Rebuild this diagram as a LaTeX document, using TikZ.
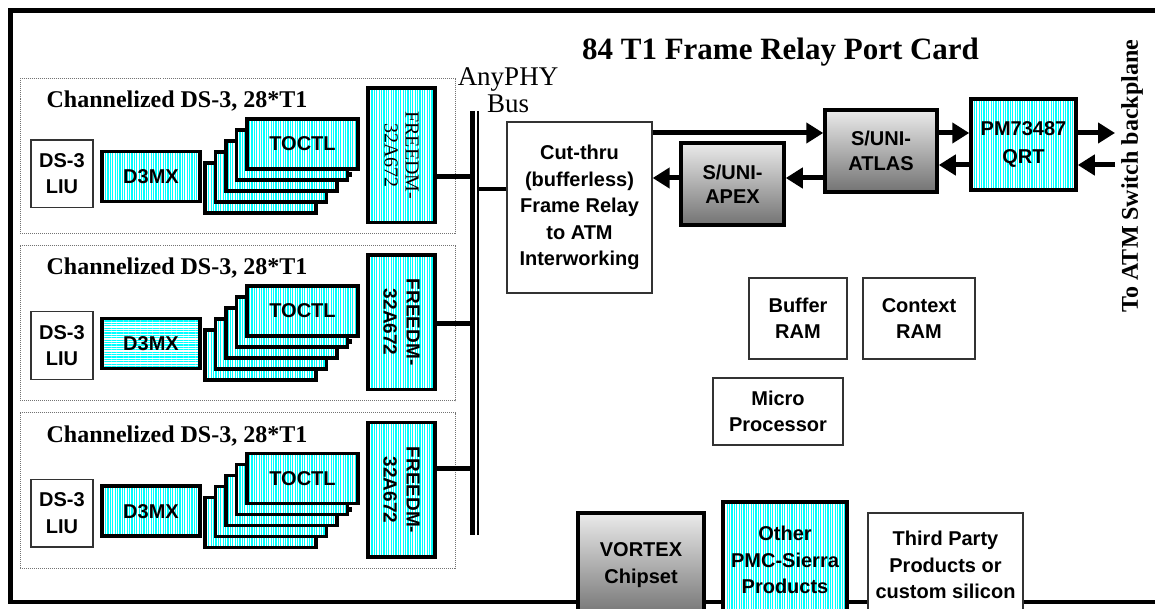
\documentclass[tikz,border=0pt]{standalone}
\usepackage{fontspec}
\setmainfont{Liberation Serif}
\setsansfont{Liberation Sans}
\usetikzlibrary{arrows.meta,patterns.meta}
\tikzset{
  sansb/.style={font=\sffamily\bfseries\fontsize{20}{26.5}\selectfont},
  thinbox/.style={draw=black!80, line width=1.3pt, fill=white, inner sep=0pt, align=center, sansb},
  thickbox/.style={draw=black, line width=3.5pt, inner sep=0pt, align=center, sansb},
  vstripes/.style={preaction={fill=white}, pattern={Lines[angle=90,distance=2.4pt,line width=1.1pt]}, pattern color=cyan},
  hstripes/.style={preaction={fill=white}, pattern={Lines[angle=0,distance=2.4pt,line width=1.1pt]}, pattern color=cyan},
  grad/.style={top color=black!8, bottom color=black!55},
  groupbox/.style={draw=black!55, line width=0.9pt, dash pattern=on 1pt off 1pt, inner sep=0pt},
  grouptitle/.style={font=\rmfamily\bfseries\fontsize{24}{26}\selectfont, inner sep=0pt},
  link/.style={line width=4.5pt},
  arr/.style={line width=5pt, -{Triangle[length=17pt,width=20pt]}},
  frame/.style={line width=4.3pt, line join=miter},
}
\newcommand{\dsgroup}[6]{%
  \node[groupbox, minimum width=435pt, minimum height=155.5pt] (grp#1) at (237.5, #2+77.75) {};
  \node[grouptitle, anchor=base] (gt#1) at (177, #2+30) {Channelized DS-3, 28*T1};
  \node[thinbox, minimum width=62pt, minimum height=67.7pt] (liu#1) at (62, #3+33.85) {DS-3\\LIU};
  \node[thickbox, #5, minimum width=98pt, minimum height=50pt] (d3mx#1) at (151, #2+98.5) {D3MX};
  \foreach \i in {0,...,3}{%
    \node[thickbox, vstripes, minimum width=111pt, minimum height=50pt] (toc#1-\i) at (260.5+10.5*\i, #2+110-11*\i) {};}
  \fill[black] (347, #2+94) rectangle (352, #2+99);
  \node[thickbox, vstripes, minimum width=111pt, minimum height=50pt] (toc#1) at (302.5, #2+66) {TOCTL};
  \node[thickbox, vstripes, minimum width=67pt, minimum height=134.5pt] (fr#1) at (401.5, #2+77.25) {};
  \node[rotate=-90, align=center, inner sep=0pt, font=#6] (frt#1) at (fr#1.center) {FREEDM-\\32A672};
  \coordinate (bl#1) at (472.5, #4);
  \draw[link] (fr#1.east |- bl#1) -- (bl#1);
}
\begin{document}
\begin{tikzpicture}[x=1pt,y=-1pt]
\useasboundingbox (0,0) rectangle (1155,609);
\clip (0,0) rectangle (1155,609);
% outer frame
\draw[frame] (1156,10.5) -- (10.5,10.5) -- (10.5,602) -- (1156,602);
% title
\node[font=\rmfamily\bfseries\fontsize{31}{33}\selectfont, anchor=base, inner sep=0pt] (title) at (780.5,60) {84 T1 Frame Relay Port Card};
% groups
\dsgroup{1}{78}{140}{176.7}{vstripes}{\rmfamily\fontsize{20}{21}\selectfont}
\dsgroup{2}{245}{311.7}{323.3}{hstripes}{\sffamily\bfseries\fontsize{19}{23}\selectfont}
\dsgroup{3}{412.7}{479.3}{468.3}{vstripes}{\sffamily\bfseries\fontsize{19}{23}\selectfont}
% bus
\coordinate (busT) at (472.5,111);
\coordinate (busB) at (472.5,535);
\coordinate (bus2T) at (478,111);
\coordinate (bus2B) at (478,535);
\draw[line width=4.5pt] (busT) -- (busB);
\draw[line width=2pt] (bus2T) -- (bus2B);
\node[font=\rmfamily\fontsize{27}{27}\selectfont, align=center, inner sep=0pt] (anyphy) at (508,90) {AnyPHY\\Bus};
% cut-thru
\node[thinbox, minimum width=145pt, minimum height=171pt] (cut) at (579.5,207.5) {Cut-thru\\(bufferless)\\Frame Relay\\to ATM\\Interworking};
\coordinate (bc) at (478,189);
\draw[link] (bc) -- (cut.west |- bc);
% ATM side
\node[thickbox, grad, minimum width=112pt, minimum height=82pt, font=\sffamily\bfseries\fontsize{20}{25}\selectfont] (atlas) at (881,151) {S/UNI-\\ATLAS};
\node[thickbox, grad, minimum width=103pt, minimum height=82pt, font=\sffamily\bfseries\fontsize{20}{24}\selectfont] (apex) at (732.5,184) {S/UNI-\\APEX};
\node[thickbox, vstripes, minimum width=105pt, minimum height=91pt, font=\sffamily\bfseries\fontsize{20}{28}\selectfont] (qrt) at (1023.5,144.5) {PM73487\\QRT};
\coordinate (ya) at (0,133);
\coordinate (yb) at (0,165);
\coordinate (yc) at (0,178);
\draw[arr] (cut.east |- ya) -- (atlas.west |- ya);
\draw[arr] (atlas.west |- yc) -- (apex.east |- yc);
\draw[arr] (apex.west |- yc) -- (cut.east |- yc);
\draw[arr] (atlas.east |- ya) -- (qrt.west |- ya);
\draw[arr] (qrt.west |- yb) -- (atlas.east |- yb);
\coordinate (outT) at (1115,133);
\coordinate (outB) at (1115,165);
\draw[arr] (qrt.east |- outT) -- (outT);
\draw[arr] (outB) -- (qrt.east |- outB);
\node[rotate=90, font=\rmfamily\bfseries\fontsize{24}{26}\selectfont, inner sep=0pt] (backplane) at (1132,176) {To ATM Switch backplane};
% memory and CPU
\node[thinbox, minimum width=98pt, minimum height=81pt] (bufram) at (798,318.5) {Buffer\\RAM};
\node[thinbox, minimum width=112pt, minimum height=81pt] (ctxram) at (919,318.5) {Context\\RAM};
\node[thinbox, minimum width=130pt, minimum height=67pt] (micro) at (778,411.5) {Micro\\Processor};
% bottom boxes
\node[thickbox, grad, minimum width=126pt, minimum height=104pt] (vortex) at (641,565) {VORTEX\\Chipset};
\node[thickbox, vstripes, minimum width=124pt, minimum height=116pt] (other) at (785,560) {Other\\PMC-Sierra\\Products};
\node[thinbox, minimum width=155pt, minimum height=104pt] (third) at (945.5,565) {Third Party\\Products or\\custom silicon};
\end{tikzpicture}
\end{document}
